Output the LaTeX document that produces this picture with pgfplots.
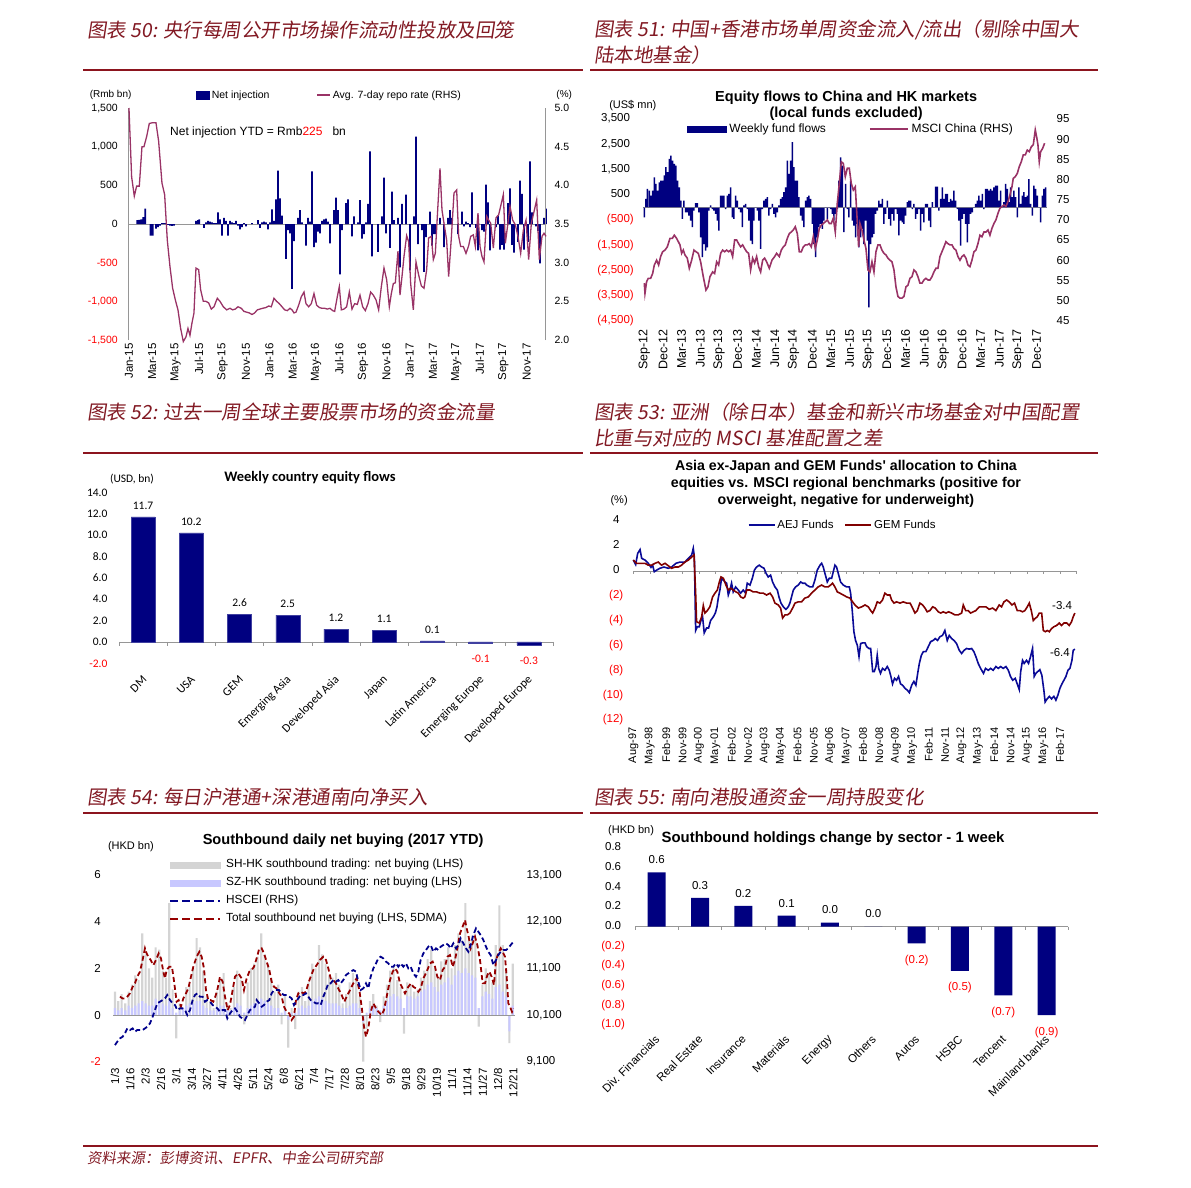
\documentclass[border=0pt]{standalone}
\usepackage{pgfplots}
\pgfplotsset{compat=1.18}
\usepackage{fontspec}
\setmainfont{Liberation Sans}
\newfontfamily\calfont{Carlito}
\newfontfamily\cjkfont[FakeSlant=0.15]{Noto Sans CJK SC}
\definecolor{navy}{RGB}{0,0,128}
\definecolor{ttl}{RGB}{130,25,35}
\definecolor{rulec}{RGB}{140,20,30}
\definecolor{repo}{RGB}{153,51,102}
\definecolor{aej}{RGB}{10,10,150}
\definecolor{gem}{RGB}{128,0,0}
\definecolor{shgray}{RGB}{212,212,212}
\definecolor{szlav}{RGB}{200,200,255}
\definecolor{negred}{RGB}{255,0,0}
\definecolor{axgray}{RGB}{150,150,150}
\definecolor{zl}{RGB}{110,110,140}
\definecolor{hsc}{RGB}{0,0,140}
\definecolor{tot}{RGB}{150,0,0}
\newcommand{\fs}[1]{\fontsize{#1}{#1}\selectfont}
\newcommand{\rd}[1]{\textcolor{negred}{#1}}
\pgfplotsset{
  base/.style={scale only axis, anchor=south west, clip=false,
    /pgf/number format/assume math mode=true,
    major tick length=0pt, axis line style={axgray}, tick style={draw=none}},
}
\begin{document}
\begin{tikzpicture}
\path[use as bounding box] (0pt,0pt) rectangle (1191pt,-1187pt);
% ---------- titles and rules ----------
\begin{scope}[every node/.style={anchor=west, font=\cjkfont\fs{19.5}, text=ttl, inner sep=0pt}]
\node at (87pt,-30pt) {图表 50:  央行每周公开市场操作流动性投放及回笼};
\node at (594pt,-30pt) {图表 51:  中国+香港市场单周资金流入/流出（剔除中国大};
\node at (594pt,-55pt) {陆本地基金）};
\node at (87pt,-412pt) {图表 52:  过去一周全球主要股票市场的资金流量};
\node at (594pt,-412pt) {图表 53:  亚洲（除日本）基金和新兴市场基金对中国配置};
\node at (594pt,-438pt) {比重与对应的 MSCI 基准配置之差};
\node at (87pt,-797pt) {图表 54:  每日沪港通+深港通南向净买入};
\node at (594pt,-797pt) {图表 55:  南向港股通资金一周持股变化};
\node[font=\cjkfont\fs{14.5}] at (87pt,-1158pt) {资料来源：彭博资讯、EPFR、中金公司研究部};
\end{scope}
\begin{scope}[rulec, line width=1.2pt]
\draw (83pt,-70pt) -- (583pt,-70pt); \draw (590pt,-70pt) -- (1098pt,-70pt);
\draw (83pt,-453pt) -- (583pt,-453pt); \draw (590pt,-453pt) -- (1098pt,-453pt);
\draw (83pt,-813pt) -- (583pt,-813pt); \draw (590pt,-813pt) -- (1098pt,-813pt);
\draw (83pt,-1146pt) -- (1098pt,-1146pt);
\end{scope}

% ================= Panel 50 =================
\begin{axis}[base, at={(128.3pt,-340pt)}, width=416.7pt, height=232pt,
  xmin=145, xmax=1395, ymin=-1500, ymax=1500,
  axis y line*=left, axis x line*=bottom, x axis line style={draw=none},
  ytick={-1500,-1000,-500,0,500,1000,1500},
  yticklabels={{\rd{-1,500}},{\rd{-1,000}},{\rd{-500}},0,500,{1,000},{1,500}},
  yticklabel style={font=\fs{10.5}, xshift=-7pt},
  xtick={147,217,287,357,428,498,568,638,708,778,849,919,989,1059,1129,1199,1270,1340},
  xticklabels={Jan-15,Mar-15,May-15,Jul-15,Sep-15,Nov-15,Jan-16,Mar-16,May-16,Jul-16,Sep-16,Nov-16,Jan-17,Mar-17,May-17,Jul-17,Sep-17,Nov-17},
  xticklabel style={font=\fs{11.5}, rotate=90, anchor=east},
]
\draw[axgray] (axis cs:145,0) -- (axis cs:1395,0);
\addplot[ybar, bar shift=0pt, bar width=5.5, fill=navy, draw=none] coordinates {
(172,50)(178,55)(184,60)(190,90)(196,200)(212,-150)(218,-150)(228,-60)(234,-40)(240,-20)(246,10)(252,10)(258,10)(264,-10)(270,-20)(276,-25)(282,-20)(348,40)(354,50)(358,60)(372,-50)(378,20)(384,40)(390,30)(396,20)(402,10)(408,10)(414,150)(420,60)(426,-150)(432,80)(438,40)(444,-150)(450,40)(456,20)(462,10)(468,40)(474,-20)(480,-70)(486,-40)(492,10)(498,-30)(516,10)(534,50)(540,-50)(546,20)(552,30)(558,20)(564,-70)(570,20)(576,190)(582,40)(588,320)(594,690)(600,330)(606,110)(618,-450)(624,-80)(630,-120)(636,-840)(642,-220)(654,80)(660,180)(666,20)(678,-280)(684,80)(690,30)(696,680)(702,-300)(708,-240)(714,-100)(720,-120)(726,40)(732,60)(738,70)(744,30)(750,-250)(762,180)(768,340)(774,180)(780,-650)(786,-80)(798,270)(804,320)(816,-160)(822,100)(834,20)(840,310)(846,-190)(852,-130)(858,20)(864,260)(870,940)(876,-420)(894,-360)(906,100)(912,600)(918,-120)(930,-310)(936,420)(942,50)(954,80)(960,-560)(966,260)(978,380)(990,-600)(1002,100)(1008,1130)(1014,-260)(1026,-80)(1032,-620)(1038,-170)(1050,160)(1056,-280)(1062,-130)(1068,-130)(1080,80)(1092,-300)(1104,80)(1110,180)(1116,80)(1134,-130)(1146,160)(1152,-30)(1158,30)(1164,10)(1170,-40)(1176,410)(1188,-50)(1194,-340)(1206,-80)(1212,-100)(1218,510)(1224,280)(1230,-340)(1248,-40)(1254,110)(1260,-330)(1266,-270)(1272,-330)(1284,270)(1290,460)(1296,-270)(1302,-370)(1314,-230)(1320,560)(1326,390)(1332,-330)(1344,-230)(1350,810)(1356,150)(1368,-30)(1374,-90)(1380,-510)(1392,80)(1398,200)};
\node[anchor=east, font=\fs{10}] at (axis description cs:0.016,1.056) {(Rmb bn)};
\node[anchor=west, font=\fs{10}] at (axis description cs:1.019,1.056) {(\%)};
\node[anchor=west, font=\fs{12}] at (axis description cs:0.092,0.897) {Net injection YTD = Rmb\textcolor{negred}{225}\ \ \ bn};
\end{axis}
\begin{axis}[base, at={(128.3pt,-340pt)}, width=416.7pt, height=232pt,
  xmin=145, xmax=1395, ymin=2, ymax=5,
  axis y line*=right, axis x line=none,
  ytick={2,2.5,3,3.5,4,4.5,5}, yticklabels={2.0,2.5,3.0,3.5,4.0,4.5,5.0},
  yticklabel style={font=\fs{10.5}, xshift=6pt},
  legend columns=2,
  legend style={draw=none, fill=none, at={(0.163,1.056)}, anchor=west, font=\fs{10.5}, inner sep=0pt,
    nodes={inner sep=1pt}, /tikz/every odd column/.append style={column sep=1pt}, /tikz/every even column/.append style={column sep=46pt}},
]
\addlegendimage{legend image code/.code={\fill[navy] (0pt,-4pt) rectangle (13pt,4pt);}}
\addlegendentry{Net injection}
\addplot[repo, line width=1.3pt, legend image code/.code={\draw[repo, line width=1.3pt] (0pt,0pt) -- (13pt,0pt);}] coordinates {
(147,5.00)(155,4.11)(163,3.86)(170,3.99)(178,3.99)(186,4.50)(192,4.50)(200,4.63)(208,4.80)(218,4.81)(228,4.81)(236,4.57)(246,4.03)(254,3.88)(262,3.29)(270,2.95)(278,2.67)(286,2.52)(294,2.39)(302,2.15)(310,1.98)(318,2.04)(324,2.15)(330,2.06)(336,2.22)(342,2.35)(348,2.93)(356,2.91)(362,2.65)(370,2.50)(378,2.50)(386,2.48)(394,2.40)(402,2.43)(412,2.54)(420,2.50)(430,2.43)(440,2.39)(450,2.41)(458,2.39)(466,2.40)(474,2.43)(484,2.41)(492,2.37)(500,2.36)(508,2.35)(516,2.33)(524,2.35)(532,2.39)(540,2.40)(548,2.41)(558,2.42)(566,2.44)(574,2.43)(582,2.54)(590,2.50)(598,2.47)(606,2.43)(614,2.39)(622,2.38)(630,2.41)(636,2.39)(642,2.35)(648,2.36)(656,2.45)(664,2.56)(672,2.62)(678,2.47)(686,2.43)(694,2.47)(702,2.60)(710,2.45)(718,2.42)(726,2.41)(734,2.41)(742,2.40)(750,2.41)(758,2.38)(764,2.37)(772,2.56)(778,2.69)(784,2.39)(792,2.40)(800,2.43)(808,2.62)(816,2.40)(824,2.47)(832,2.46)(840,2.58)(848,2.43)(856,2.38)(864,2.47)(872,2.62)(880,2.58)(888,2.52)(896,2.39)(904,2.69)(912,2.93)(920,2.78)(928,2.43)(934,2.60)(940,2.73)(946,2.74)(954,3.15)(960,2.58)(966,2.82)(972,3.08)(980,3.35)(986,3.27)(992,2.73)(1000,2.39)(1008,3.01)(1016,2.84)(1024,2.70)(1032,2.67)(1040,2.91)(1046,3.32)(1054,3.34)(1060,3.04)(1066,3.12)(1072,3.60)(1080,4.22)(1086,3.68)(1092,3.51)(1100,3.29)(1106,2.82)(1114,3.32)(1122,3.90)(1130,3.94)(1136,3.34)(1142,3.21)(1150,3.21)(1158,3.12)(1166,3.22)(1172,3.34)(1180,3.36)(1186,3.21)(1194,3.64)(1200,3.21)(1206,3.08)(1212,3.01)(1220,3.60)(1226,3.55)(1232,3.51)(1240,3.19)(1248,3.58)(1256,3.62)(1262,3.73)(1270,3.88)(1276,3.25)(1282,3.45)(1290,3.73)(1298,3.55)(1306,3.49)(1314,3.34)(1322,3.12)(1330,3.42)(1338,3.55)(1346,3.04)(1354,3.51)(1362,3.66)(1370,3.81)(1378,3.04)(1386,3.34)(1392,3.38)(1398,3.34)};
\addlegendentry{Avg. 7-day repo rate (RHS)}
\end{axis}

% ================= Panel 51 =================
\begin{axis}[base, at={(643.3pt,-320.7pt)}, width=403.3pt, height=201.7pt,
  xmin=160, xmax=1370, ymin=-4500, ymax=3500,
  axis y line*=left, y axis line style={draw=none}, axis x line*=bottom, x axis line style={draw=none},
  ytick={-4500,-3500,-2500,-1500,-500,500,1500,2500,3500},
  yticklabels={{\rd{(4,500)}},{\rd{(3,500)}},{\rd{(2,500)}},{\rd{(1,500)}},{\rd{(500)}},{500\phantom{)}},{1,500\phantom{)}},{2,500\phantom{)}},{3,500\phantom{)}}},
  yticklabel style={font=\fs{11.5}, xshift=-6pt},
  xtick={163,219,275,331,387,443,499,555,611,667,723,779,835,891,947,1003,1060,1116,1172,1228,1284,1340},
  xticklabels={Sep-12,Dec-12,Mar-13,Jun-13,Sep-13,Dec-13,Mar-14,Jun-14,Sep-14,Dec-14,Mar-15,Jun-15,Sep-15,Dec-15,Mar-16,Jun-16,Sep-16,Dec-16,Mar-17,Jun-17,Sep-17,Dec-17},
  xticklabel style={font=\fs{12.5}, rotate=90, anchor=east, xshift=-5pt},
]
\addplot[ybar, bar shift=0pt, bar width=4.6, fill=navy, draw=none] coordinates {
(163,-400)(168,330)(172,730)(178,660)(183,460)(188,660)(193,1190)(198,930)(203,660)(208,990)(213,1060)(218,1060)(223,1260)(228,1590)(233,1390)(238,1920)(243,2050)(248,1850)(253,1720)(258,1650)(263,1060)(268,790)(273,260)(277,-460)(282,260)(287,-200)(292,-200)(297,-330)(302,-530)(307,-790)(312,-130)(317,160)(322,160)(327,-200)(332,-1190)(337,-1980)(342,-1460)(347,-1720)(352,-1590)(357,-130)(362,70)(367,-70)(372,-130)(377,-260)(382,-530)(387,-930)(392,460)(397,460)(402,460)(407,-70)(412,460)(417,530)(422,790)(427,-400)(432,-460)(437,460)(442,260)(447,-70)(452,-200)(457,-790)(462,70)(467,130)(472,-70)(477,-530)(482,-1320)(487,-1460)(492,-530)(502,-130)(507,-530)(512,-1650)(517,-70)(522,260)(527,330)(532,400)(537,-330)(542,-70)(547,130)(552,-260)(557,-400)(562,-200)(567,70)(572,330)(577,400)(582,600)(587,790)(592,1850)(597,1320)(602,1850)(607,2580)(612,1590)(617,1060)(622,1060)(627,400)(632,-330)(637,-530)(642,-790)(647,260)(652,400)(657,460)(662,330)(667,-660)(672,-1460)(677,-1980)(682,-1190)(687,-790)(692,-660)(697,-860)(702,-530)(712,-460)(722,-70)(727,-260)(732,-530)(737,-260)(742,-70)(747,1060)(752,1980)(757,1650)(762,-990)(767,930)(772,-70)(777,-400)(782,1060)(787,-530)(792,-730)(797,-1190)(802,-660)(807,-1590)(812,-1190)(817,-860)(822,-1460)(827,-530)(832,-1320)(837,-3970)(842,-1460)(847,-1190)(852,-1060)(857,-260)(862,-130)(867,260)(872,130)(877,330)(882,-660)(887,-260)(892,260)(897,-460)(902,-730)(907,-260)(912,-530)(917,-70)(922,-260)(927,-1120)(932,-530)(937,-600)(942,-660)(947,-330)(952,200)(957,260)(962,260)(967,-70)(972,130)(977,-460)(982,-260)(987,-70)(992,-930)(997,-260)(1002,-600)(1007,130)(1012,130)(1017,-530)(1022,-790)(1027,200)(1037,820)(1042,820)(1047,-130)(1052,330)(1057,790)(1062,330)(1067,530)(1072,530)(1077,200)(1082,330)(1087,260)(1092,660)(1097,260)(1102,-70)(1107,-530)(1112,-1520)(1117,-460)(1122,-260)(1127,-660)(1132,-1390)(1137,-660)(1142,-260)(1147,-200)(1157,130)(1162,260)(1167,460)(1172,260)(1177,530)(1182,-70)(1187,730)(1192,730)(1197,660)(1202,730)(1207,660)(1212,790)(1217,860)(1222,860)(1227,260)(1232,660)(1242,200)(1247,930)(1252,730)(1257,200)(1262,790)(1267,400)(1272,660)(1277,400)(1282,-400)(1287,790)(1292,130)(1297,460)(1302,600)(1307,400)(1312,460)(1317,1120)(1322,130)(1327,-330)(1332,860)(1337,730)(1342,460)(1352,-600)(1357,460)(1362,730)(1367,790)};
\draw[zl, line width=1.5pt] (axis cs:160,0) -- (axis cs:1370,0);
\node[font=\fs{11}] at (axis description cs:-0.026,1.069) {(US\$ mn)};
\node[font=\bfseries\fontsize{14.5}{16}\selectfont, align=center, inner sep=0pt] at (axis description cs:0.503,1.064) {Equity flows to China and HK markets\\(local funds excluded)};
\end{axis}
\begin{axis}[base, at={(643.3pt,-320.7pt)}, width=403.3pt, height=201.7pt,
  xmin=160, xmax=1370, ymin=45, ymax=95,
  axis y line*=right, y axis line style={draw=none}, axis x line=none,
  ytick={45,50,...,95},
  yticklabel style={font=\fs{11.5}, xshift=6.5pt},
  legend columns=2,
  legend style={draw=none, fill=none, at={(0.108,0.950)}, anchor=west, font=\fs{12}, inner sep=0pt,
    nodes={inner sep=1pt}, /tikz/every odd column/.append style={column sep=2pt}, /tikz/every even column/.append style={column sep=42pt}},
]
\addlegendimage{legend image code/.code={\fill[navy] (0pt,-3pt) rectangle (39pt,3pt);}}
\addlegendentry{Weekly fund flows}
\addplot[repo, line width=1.6pt, legend image code/.code={\draw[repo, line width=1.6pt] (0pt,0pt) -- (38pt,0pt);}] coordinates {
(163,54.3)(165,51.8)(170,54.7)(175,55.5)(182,55.5)(188,56.7)(193,58.8)(200,60.0)(206,58.8)(212,60.9)(218,62.1)(225,62.5)(232,63.3)(240,65.4)(247,65.4)(253,66.2)(260,65.4)(265,64.6)(270,63.8)(275,61.7)(280,62.5)(285,61.3)(292,60.5)(298,58.0)(305,60.0)(312,62.5)(318,62.1)(325,61.7)(332,59.6)(340,55.9)(348,52.6)(354,53.4)(360,55.9)(368,57.1)(374,56.7)(380,59.6)(386,58.8)(392,61.7)(398,62.5)(404,62.1)(410,62.5)(416,62.1)(422,62.5)(428,60.9)(434,65.0)(440,65.0)(446,64.1)(452,63.3)(458,63.8)(464,62.9)(470,62.1)(476,61.7)(482,57.6)(488,60.5)(494,59.3)(500,60.9)(506,58.4)(512,57.1)(518,60.0)(524,60.5)(530,59.6)(538,58.0)(546,60.0)(554,60.9)(560,61.7)(568,60.9)(574,62.5)(580,63.3)(586,63.8)(592,65.4)(598,66.6)(604,67.0)(610,67.5)(616,68.3)(622,66.6)(628,62.1)(634,62.1)(640,63.3)(646,63.8)(652,63.8)(658,64.1)(664,63.3)(670,65.8)(676,62.9)(682,65.0)(688,67.9)(694,68.7)(700,69.1)(706,69.5)(712,70.0)(718,69.1)(724,69.1)(730,70.4)(736,67.0)(742,74.1)(748,79.0)(754,84.4)(760,84.0)(766,80.7)(772,82.8)(778,82.8)(784,79.0)(790,77.4)(796,78.2)(802,69.5)(806,63.3)(810,69.1)(816,67.5)(822,65.0)(828,62.9)(834,57.6)(840,57.1)(846,59.6)(852,57.1)(858,62.1)(864,63.8)(870,63.8)(876,62.5)(882,61.7)(888,61.3)(894,60.5)(900,60.0)(906,59.6)(912,57.6)(918,53.4)(924,51.0)(930,50.6)(936,50.6)(942,51.0)(948,53.4)(954,53.8)(960,55.5)(966,55.9)(972,57.6)(978,57.1)(984,55.9)(990,54.3)(996,54.3)(1002,55.1)(1008,55.5)(1014,55.1)(1020,55.1)(1026,55.9)(1032,57.1)(1038,58.0)(1044,58.0)(1050,60.9)(1056,62.1)(1062,63.3)(1068,64.6)(1074,64.1)(1080,63.8)(1086,63.8)(1092,62.9)(1098,62.5)(1104,60.9)(1110,60.0)(1116,60.9)(1122,61.3)(1128,60.5)(1134,58.8)(1140,58.4)(1146,60.0)(1152,62.1)(1158,62.5)(1164,64.1)(1170,66.2)(1176,65.8)(1182,67.0)(1188,67.0)(1194,67.5)(1200,66.2)(1206,67.9)(1212,69.1)(1218,70.0)(1224,71.6)(1230,72.9)(1236,73.3)(1242,73.7)(1248,73.3)(1254,74.5)(1260,76.2)(1266,78.2)(1270,80.3)(1276,80.7)(1282,81.5)(1288,83.2)(1294,84.4)(1300,86.1)(1306,86.1)(1312,87.3)(1318,86.9)(1324,88.1)(1330,88.6)(1336,92.3)(1340,90.6)(1344,88.6)(1348,84.4)(1352,86.9)(1358,87.7)(1364,89.0)};
\addlegendentry{MSCI China (RHS)}
\end{axis}

% ================= Panel 52 =================
\begin{axis}[base, at={(119pt,-663.3pt)}, width=434pt, height=171pt,
  xmin=-0.5, xmax=8.5, ymin=-2, ymax=14,
  axis y line*=left, y axis line style={draw=none}, axis x line*=bottom, x axis line style={draw=none},
  ytick={-2,0,2,4,6,8,10,12,14}, yticklabels={{\rd{-2.0}},0.0,2.0,4.0,6.0,8.0,10.0,12.0,14.0},
  yticklabel style={font=\calfont\fs{11.5}, xshift=-8pt},
  xtick={0,...,8}, xticklabels={DM,USA,GEM,Emerging Asia,Developed Asia,Japan,Latin America,Emerging Europe,Developed Europe},
  xticklabel style={font=\calfont\fs{12}, yshift=-12pt, xshift=4pt, rotate=45, anchor=east},
]
\draw[axgray] (axis cs:-0.5,0) -- (axis cs:8.5,0);
\pgfplotsinvokeforeach{-0.5,0.5,...,8.5}{\draw[axgray] (axis cs:#1,0) -- ++(0pt,-4pt);}
\addplot[ybar, bar shift=0pt, bar width=24pt, fill=navy, draw=navy!75!white, point meta=explicit symbolic, nodes near coords,
  every node near coord/.append style={font=\calfont\fs{11.5}, anchor=south, yshift=4pt}] coordinates {
(0,11.7)[11.7] (1,10.2)[10.2] (2,2.6)[2.6] (3,2.5)[2.5] (4,1.2)[1.2] (5,1.1)[1.1] (6,0.1)[0.1]};
\addplot[ybar, bar shift=0pt, bar width=24pt, fill=navy, draw=navy!75!white, point meta=explicit symbolic, nodes near coords,
  every node near coord/.append style={font=\calfont\fs{11.5}, text=negred, anchor=north, yshift=-8pt}] coordinates {
(7,-0.1)[-0.1] (8,-0.3)[-0.3]};
\node[font=\calfont\bfseries\fs{14.5}] at (axis description cs:0.44,1.089) {Weekly country equity flows};
\node[font=\calfont\fs{11.5}] at (axis description cs:0.03,1.078) {(USD, bn)};
\end{axis}

% ================= Panel 53 =================
\begin{axis}[base, at={(633.3pt,-720pt)}, width=443pt, height=199pt,
  xmin=0, xmax=243, ymin=-12, ymax=4,
  axis y line*=left, y axis line style={draw=none}, axis x line*=bottom, x axis line style={draw=none},
  ytick={-12,-10,...,4},
  yticklabels={{\rd{(12)}},{\rd{(10)}},{\rd{(8)}},{\rd{(6)}},{\rd{(4)}},{\rd{(2)}},{0\phantom{)}},{2\phantom{)}},{4\phantom{)}}},
  yticklabel style={font=\fs{11.5}, xshift=-6.5pt},
  xtick={0,9,...,234},
  xticklabels={Aug-97,May-98,Feb-99,Nov-99,Aug-00,May-01,Feb-02,Nov-02,Aug-03,May-04,Feb-05,Nov-05,Aug-06,May-07,Feb-08,Nov-08,Aug-09,May-10,Feb-11,Nov-11,Aug-12,May-13,Feb-14,Nov-14,Aug-15,May-16,Feb-17},
  xticklabel style={font=\fs{11}, rotate=90, anchor=east, xshift=-4pt},
  legend columns=2,
  legend style={draw=none, fill=none, at={(0.258,0.98)}, anchor=west, font=\fs{11.5}, inner sep=0pt,
    nodes={inner sep=1pt}, /tikz/every odd column/.append style={column sep=1pt}, /tikz/every even column/.append style={column sep=10pt}},
]
\draw[axgray] (axis cs:0,0) -- (axis cs:243,0);
\pgfplotsinvokeforeach{0,9,...,243}{\draw[axgray] (axis cs:#1,0) -- ++(0pt,-3pt);}
\addplot[aej, line width=1.6pt, legend image code/.code={\draw[aej, line width=1.6pt] (0pt,0pt) -- (26pt,0pt);}] coordinates {
(0,0.86)(1.3,0.5)(2.4,1.4)(3.7,1.7)(4.6,1.0)(6.4,0.86)(8.2,0.6)(9.7,0.27)(10.6,0.45)(11.5,-0.08)(12.8,0.05)(14.6,0.2)(16.8,0.3)(19.2,0.2)(21,0.3)(23.4,0.6)(25.6,0.7)(28.3,0.7)(30.2,1.0)(32,1.26)(32.9,1.8)(33.5,1.1)(34.2,-4.8)(35.1,-4.5)(36.2,-4.5)(37.1,-4.0)(38,-3.7)(38.9,-5.0)(40.2,-4.6)(41.3,-4.6)(42.4,-4.0)(43.9,-3.7)(45,-3.4)(45.9,-2.9)(46.6,-2.2)(47.5,-1.55)(48.4,-0.6)(49.4,-0.75)(50.3,-0.9)(51.2,-1.0)(52.1,-1.95)(53,-1.55)(53.9,-1.0)(54.8,-1.7)(56.1,-1.3)(57.6,-1.55)(58.9,-1.8)(60.3,-1.55)(61.6,-1.8)(62.5,-1.0)(64,-1.15)(65.3,-0.6)(66.4,0.05)(67.6,0.3)(69.1,0.45)(70.4,0.3)(71.7,0.2)(72.8,-0.2)(74,-0.5)(75.3,-0.35)(76.4,-0.9)(77.7,-1.3)(79,-1.55)(79.9,-2.1)(81,-2.6)(82.3,-2.9)(83.7,-3.1)(85,-2.9)(85.9,-2.6)(86.8,-2.1)(87.8,-1.55)(89,-1.3)(90.5,-1.15)(91.8,-0.9)(92.9,-1.0)(94.1,-1.0)(95.1,-1.15)(96.9,-1.3)(98.4,-1.3)(99.6,-0.75)(100.9,0.05)(102.4,0.45)(103.3,0.6)(104.2,0.3)(105.1,-0.2)(106.4,-0.9)(107.5,-0.6)(108.8,-0.6)(109.7,-0.08)(110.6,0.45)(111.5,0.3)(112.4,-0.2)(113.7,-0.9)(115.2,-1.15)(117,-1.3)(118.5,-1.3)(119.2,-1.8)(120.1,-3.2)(121,-4.9)(121.9,-5.6)(122.9,-6.0)(123.8,-6.9)(124.7,-5.85)(125.8,-5.8)(127.1,-5.8)(128,-6.1)(129.3,-6.25)(130.2,-6.25)(131.3,-8.1)(132.2,-8.1)(133.1,-7.7)(133.8,-6.8)(134.6,-7.85)(135.6,-8.25)(136.7,-7.85)(138,-8.0)(139.3,-7.7)(140.4,-8.0)(141.3,-8.5)(142.2,-9.1)(143.3,-8.65)(144.4,-8.8)(145.5,-8.5)(146.6,-9.1)(147.7,-9.2)(149,-9.45)(150.3,-9.6)(151.4,-9.8)(152.7,-9.2)(153.9,-8.9)(155,-9.2)(156,-8.25)(156.9,-7.45)(158,-6.8)(159.1,-6.5)(160.5,-6.5)(161.8,-6.1)(163.1,-5.7)(164.5,-5.6)(165.6,-5.45)(166.9,-5.6)(168.2,-5.3)(169.6,-5.2)(170.9,-4.8)(172.2,-5.6)(173.3,-5.2)(174.6,-5.45)(175.9,-5.6)(177.3,-5.85)(178.8,-6.4)(180.1,-6.65)(181.4,-6.4)(182.8,-6.25)(184.3,-6.3)(185.6,-6.25)(186.8,-6.5)(187.9,-6.9)(189.2,-7.45)(190.5,-7.85)(192.1,-8.25)(193.2,-7.85)(194.7,-8.0)(196,-7.85)(197.4,-8.0)(198.9,-7.7)(200.2,-7.85)(201.5,-7.7)(202.9,-7.85)(204.4,-7.7)(205.7,-8.0)(206.9,-8.5)(208.1,-8.8)(209.5,-8.65)(210.6,-9.1)(211.7,-9.55)(212.5,-8.1)(213.5,-7.2)(214.4,-7.45)(215.7,-7.2)(216.8,-7.45)(217.9,-6.9)(219,-6.25)(219.9,-8.5)(220.8,-8.25)(221.9,-8.1)(223,-7.95)(224.1,-8.4)(225.2,-9.6)(225.9,-10.55)(227,-10.3)(228.2,-10.1)(229.4,-10.3)(230.7,-10.1)(231.8,-10.4)(232.9,-10.0)(234,-9.45)(235.1,-9.1)(236.2,-8.8)(237.3,-8.5)(238.4,-8.0)(239.5,-7.85)(240.6,-7.2)(241.3,-6.4)(242.2,-6.3)};
\addlegendentry{AEJ Funds}
\addplot[gem, line width=1.6pt, legend image code/.code={\draw[gem, line width=1.6pt] (0pt,0pt) -- (26pt,0pt);}] coordinates {
(0,0.86)(1.8,0.6)(4.6,0.6)(6.4,0.6)(8.2,0.45)(10.1,0.45)(11.9,0.6)(13.7,0.7)(15.5,0.45)(17.4,0.6)(19.2,0.4)(21,0.2)(22.9,0.3)(24.7,0.3)(26.5,0.45)(28.3,0.7)(30.2,0.86)(32,1.1)(33.3,1.26)(34.2,-1.8)(34.7,-4.1)(36.2,-4.2)(37.5,-3.7)(38.4,-2.8)(39.3,-3.4)(40.6,-3.2)(42,-2.9)(43.5,-2.1)(44.8,-1.8)(46.1,-1.55)(47.2,-0.9)(48.1,-0.5)(49.4,-0.6)(50.8,-1.15)(52.1,-1.55)(53.4,-1.4)(54.8,-1.55)(56.3,-1.7)(57.6,-1.8)(58.9,-2.1)(60.3,-2.2)(61.2,-2.1)(62.2,-1.55)(64,-1.55)(65.8,-1.7)(67.6,-1.7)(69.5,-1.8)(71.3,-1.8)(73.1,-1.95)(75,-1.8)(76.4,-2.1)(77.7,-2.6)(79.5,-2.75)(80.8,-3.0)(81.9,-3.8)(83.2,-3.55)(84.5,-3.55)(85.9,-3.4)(87.4,-3.0)(88.7,-2.6)(90.5,-2.5)(92.3,-2.5)(94.1,-2.2)(96,-2.1)(97.8,-1.8)(99.6,-1.55)(101.4,-1.3)(103.3,-1.15)(105.1,-1.3)(106.9,-1.3)(108.2,-1.15)(109.3,-1.0)(110.6,-1.3)(111.9,-1.7)(113.3,-1.8)(115.2,-1.95)(117,-2.1)(118.8,-2.2)(120.3,-2.5)(121.6,-2.75)(123.4,-3.0)(125.3,-2.9)(127.1,-2.75)(128.9,-2.9)(130.2,-3.2)(131.3,-3.4)(132.6,-3.0)(133.8,-2.5)(135.3,-2.6)(136.7,-2.35)(138,-1.8)(139.3,-1.95)(140.8,-1.95)(141.7,-2.35)(143,-2.6)(144.4,-2.5)(146.3,-2.6)(148.1,-2.5)(149.9,-2.6)(151.8,-2.6)(153.2,-3.0)(154.5,-3.4)(155.8,-3.2)(157.2,-2.6)(158.7,-2.75)(160,-3.0)(161.2,-3.3)(162.7,-3.2)(164.2,-2.9)(165.6,-3.0)(167.3,-3.3)(168.6,-3.4)(170,-3.3)(171.5,-3.4)(172.9,-3.3)(174.6,-3.4)(176.4,-3.55)(178.2,-3.55)(180.1,-3.4)(181,-2.75)(182.3,-3.2)(183.7,-3.2)(185,-3.4)(186.5,-3.3)(187.9,-3.2)(189.8,-2.9)(191.6,-2.9)(193.4,-2.9)(195.2,-3.1)(197.1,-3.0)(198.9,-3.2)(200.7,-2.75)(202,-2.9)(203.3,-2.5)(204.8,-2.35)(206.2,-2.5)(207.7,-2.75)(209.1,-2.6)(210.6,-3.2)(212.1,-3.2)(213.5,-3.3)(214.8,-3.2)(216.1,-2.9)(217.2,-2.6)(218.3,-3.2)(219.4,-4.0)(220.3,-3.85)(221.6,-3.7)(222.7,-3.4)(224,-3.4)(224.9,-4.8)(226,-4.9)(227.1,-4.8)(228.2,-4.9)(229.4,-4.65)(230.7,-4.5)(232.2,-4.4)(233.6,-4.2)(234.9,-4.4)(236.2,-4.2)(237.7,-4.2)(239.1,-4.4)(240.4,-4.1)(241.3,-3.7)(242.2,-3.4)};
\addlegendentry{GEM Funds}
\node[font=\bfseries\fontsize{14.2}{17}\selectfont, align=center, inner sep=0pt] at (axis description cs:0.48,1.186) {Asia ex-Japan and GEM Funds\textquotesingle\ allocation to China\\equities vs. MSCI regional benchmarks (positive for\\overweight, negative for underweight)};
\node[font=\fs{11}] at (axis description cs:-0.032,1.10) {(\%)};
\node[font=\fs{11.5}] at (axis description cs:0.968,0.573) {-3.4};
\node[font=\fs{11.5}] at (axis description cs:0.963,0.337) {-6.4};
\end{axis}

% ================= Panel 54 =================
\begin{axis}[base, at={(113.3pt,-1061.7pt)}, width=401.7pt, height=186.7pt,
  xmin=100, xmax=1305, ymin=-2, ymax=6,
  axis y line*=left, y axis line style={draw=none}, axis x line*=bottom, x axis line style={draw=none},
  ytick={-2,0,2,4,6}, yticklabels={{\rd{-2}},0,2,4,6},
  yticklabel style={font=\fs{11.5}, xshift=-9pt},
  xtick={105,151,197,243,289,335,381,427,473,519,565,611,657,702,748,794,840,886,932,978,1024,1070,1116,1162,1208,1254,1300},
  xticklabels={1/3,1/16,2/3,2/16,3/1,3/14,3/27,4/11,4/26,5/11,5/24,6/8,6/21,7/4,7/17,7/28,8/10,8/23,9/5,9/18,9/29,10/19,11/1,11/14,11/27,12/8,12/21},
  xticklabel style={font=\fs{11.5}, rotate=90, anchor=east, xshift=-3pt},
]
\addplot[ybar, bar shift=0pt, bar width=6.5, fill=shgray, draw=none] coordinates {
(105,1.0)(115,0.6)(125,0.9)(136,0.5)(146,1.0)(156,1.3)(166,1.7)(176,1.5)(187,3.5)(197,2.6)(207,2.0)(217,1.6)(227,2.9)(238,2.8)(248,1.9)(258,1.6)(268,4.8)(278,1.1)(289,-1.0)(299,0.5)(309,0.3)(319,1.2)(329,1.3)(340,2.0)(350,3.3)(360,2.9)(370,1.9)(380,0.8)(391,0.6)(401,0.3)(411,1.0)(421,1.5)(431,1.8)(442,0.5)(452,0.3)(462,1.2)(472,1.9)(482,1.5)(493,-0.4)(503,1.4)(513,2.0)(523,2.2)(533,2.5)(544,3.5)(554,2.6)(564,2.2)(574,1.6)(584,1.0)(595,1.3)(605,-0.4)(615,0.9)(625,-1.4)(635,0.3)(646,-0.6)(656,1.0)(666,1.2)(676,0.6)(686,1.4)(697,2.2)(707,2.0)(717,3.0)(727,2.6)(737,2.2)(748,1.7)(758,1.6)(768,1.8)(778,1.3)(788,0.5)(799,0.9)(809,1.4)(819,1.8)(829,1.6)(839,0.8)(850,-2.0)(860,-0.6)(870,0.6)(880,0.9)(890,0.4)(901,-0.3)(911,0.8)(921,1.3)(931,1.9)(941,2.1)(952,1.5)(962,1.2)(972,-0.8)(982,1.4)(992,1.3)(1003,1.0)(1013,1.1)(1023,1.6)(1033,1.9)(1043,2.4)(1054,2.8)(1064,2.0)(1074,1.6)(1084,2.3)(1094,2.4)(1105,2.9)(1115,2.0)(1125,3.0)(1135,3.5)(1145,3.2)(1156,4.8)(1166,3.2)(1176,3.4)(1186,3.3)(1196,-0.5)(1207,1.3)(1217,2.0)(1227,1.8)(1237,1.4)(1247,3.0)(1258,4.7)(1268,3.0)(1278,2.0)(1288,-1.2)(1298,2.2)};
\addplot[ybar, bar shift=0pt, bar width=6.5, fill=szlav, draw=none] coordinates {
(105,0.3)(115,0.2)(125,0.3)(136,0.2)(146,0.4)(156,0.3)(166,0.4)(176,0.5)(187,0.6)(197,0.5)(207,0.4)(217,0.4)(227,0.7)(238,0.6)(248,0.5)(258,0.4)(268,0.6)(278,0.3)(289,0.1)(299,0.2)(309,0.3)(319,0.4)(329,0.5)(340,0.5)(350,0.6)(360,0.6)(370,0.4)(380,0.3)(391,0.2)(401,0.2)(411,0.3)(421,0.4)(431,0.4)(442,0.2)(452,0.2)(462,0.3)(472,0.5)(482,0.4)(493,0.1)(503,0.3)(513,0.4)(523,0.5)(533,0.6)(544,0.7)(554,0.6)(564,0.5)(574,0.4)(584,0.3)(595,0.3)(605,0.1)(615,0.2)(625,-0.2)(635,0.1)(646,0.1)(656,0.3)(666,0.4)(676,0.3)(686,0.4)(697,0.6)(707,0.7)(717,0.8)(727,0.7)(737,0.6)(748,0.5)(758,0.5)(768,0.5)(778,0.4)(788,0.3)(799,0.3)(809,0.4)(819,0.5)(829,0.5)(839,0.3)(850,-0.3)(860,0.1)(870,0.3)(880,0.4)(890,0.3)(901,0.2)(911,0.4)(921,0.6)(931,0.8)(941,0.9)(952,0.8)(962,0.7)(972,0.3)(982,0.8)(992,0.8)(1003,0.7)(1013,0.8)(1023,1.0)(1033,1.1)(1043,1.3)(1054,1.4)(1064,1.2)(1074,1.0)(1084,1.3)(1094,1.4)(1105,1.6)(1115,1.3)(1125,1.7)(1135,1.9)(1145,1.8)(1156,2.0)(1166,1.8)(1176,1.7)(1186,1.6)(1196,0.3)(1207,0.8)(1217,1.0)(1227,0.9)(1237,0.7)(1247,1.2)(1258,1.3)(1268,1.0)(1278,0.8)(1288,-0.7)(1298,0.4)};
\draw[axgray, line width=0.8pt] (axis cs:100,0) -- (axis cs:1305,0);
\addplot[tot, line width=1.8pt, dash pattern=on 5pt off 3pt] coordinates {
(120,0.79)(128,0.71)(135,0.71)(142,0.79)(150,0.93)(158,1.21)(165,1.36)(172,1.64)(180,1.86)(188,2.36)(195,2.86)(200,2.64)(205,2.5)(212,2.36)(220,2.14)(228,2.36)(236,2.64)(243,2.43)(250,1.86)(255,1.57)(260,1.93)(268,2.07)(276,2.07)(283,1.36)(290,0.57)(296,0.64)(303,0.36)(310,0.71)(318,0.93)(325,1.14)(333,1.64)(340,2.07)(350,2.5)(358,2.71)(365,2.5)(372,2.0)(378,1.07)(385,0.64)(392,0.64)(400,0.57)(406,0.79)(412,1.07)(420,1.64)(428,1.43)(435,0.79)(443,0.21)(450,0.43)(458,1.07)(465,1.64)(475,1.79)(485,1.57)(492,1.07)(500,1.57)(508,1.86)(515,1.93)(522,2.07)(530,2.43)(538,2.86)(545,2.86)(552,2.64)(560,2.29)(568,1.93)(575,1.43)(582,1.21)(590,1.14)(598,0.93)(605,0.79)(612,0.36)(620,0.14)(628,0.07)(635,-0.21)(642,-0.07)(648,0.64)(655,0.93)(662,1.0)(670,0.93)(678,1.0)(685,1.36)(692,1.64)(700,1.93)(710,2.14)(720,2.36)(730,2.5)(738,2.36)(745,2.0)(752,1.57)(760,1.5)(768,1.36)(775,1.14)(785,0.86)(793,0.57)(800,0.79)(810,1.07)(820,1.36)(830,1.57)(838,1.07)(845,0.36)(852,-0.5)(858,-0.93)(865,-0.57)(872,0.14)(880,0.5)(888,0.29)(895,0.14)(905,0.0)(912,0.21)(920,0.79)(930,1.5)(938,1.86)(945,2.0)(952,1.86)(960,1.36)(968,1.14)(975,0.93)(985,1.21)(993,1.36)(1000,1.21)(1008,1.14)(1015,1.0)(1022,1.14)(1030,1.57)(1040,1.86)(1050,2.21)(1058,2.29)(1065,2.07)(1072,1.64)(1080,1.5)(1088,1.93)(1095,2.07)(1102,2.5)(1110,2.57)(1118,2.07)(1125,2.36)(1132,2.86)(1140,3.5)(1148,3.79)(1155,4.07)(1160,3.71)(1165,3.43)(1172,2.86)(1178,3.07)(1185,3.36)(1192,3.0)(1200,2.36)(1208,1.36)(1215,1.36)(1222,1.71)(1228,1.86)(1235,1.64)(1242,1.29)(1248,2.36)(1255,2.64)(1262,2.86)(1268,2.71)(1275,2.5)(1280,1.64)(1285,0.5)(1290,0.36)(1296,0.14)(1300,0.29)};
\node[font=\bfseries\fs{14.6}] at (axis description cs:0.572,1.182) {Southbound daily net buying (2017 YTD)};
\node[font=\fs{11}] at (axis description cs:0.044,1.15) {(HKD bn)};
\end{axis}
\begin{axis}[base, at={(113.3pt,-1061.7pt)}, width=401.7pt, height=186.7pt,
  xmin=100, xmax=1305, ymin=9100, ymax=13100, scaled y ticks=false,
  axis y line*=right, y axis line style={draw=none}, axis x line=none,
  ytick={9100,10100,11100,12100,13100}, yticklabels={{9,100},{10,100},{11,100},{12,100},{13,100}},
  yticklabel style={font=\fs{11.5}, xshift=8pt},
  legend cell align=left,
  legend style={draw=none, fill=none, at={(0.139,1.087)}, anchor=north west, font=\fs{11.8}, inner sep=0pt,
    nodes={inner sep=1pt, text height=8pt, text depth=2.5pt}, row sep=5.4pt, /tikz/every odd column/.append style={column sep=4pt}},
]
\addlegendimage{legend image code/.code={\fill[shgray] (0pt,-3pt) rectangle (50pt,3pt);}}
\addlegendentry{SH-HK southbound trading: net buying (LHS)}
\addlegendimage{legend image code/.code={\fill[szlav] (0pt,-3pt) rectangle (50pt,3pt);}}
\addlegendentry{SZ-HK southbound trading: net buying (LHS)}
\addplot[hsc, line width=1.8pt, dash pattern=on 5pt off 3pt, legend image code/.code={\draw[hsc, line width=1.8pt, dash pattern=on 8pt off 4pt] (0pt,0pt) -- (50pt,0pt);}] coordinates {
(105,9457)(112,9529)(120,9600)(128,9636)(135,9707)(142,9814)(150,9779)(158,9814)(165,9743)(172,9779)(180,9779)(188,9779)(195,9814)(202,9850)(210,9921)(218,10064)(225,10207)(232,10350)(240,10386)(248,10421)(255,10457)(262,10529)(270,10421)(278,10350)(285,10314)(292,10207)(300,10243)(308,10243)(315,10207)(322,10100)(330,10207)(338,10421)(345,10529)(352,10564)(360,10493)(368,10493)(375,10386)(382,10421)(390,10386)(398,10314)(405,10279)(412,10243)(420,10171)(428,10207)(435,10207)(442,10029)(450,10136)(458,10207)(465,10243)(472,10171)(480,10064)(487,10029)(495,9993)(502,10100)(510,10207)(518,10243)(525,10279)(530,10421)(538,10350)(545,10279)(552,10314)(560,10386)(568,10421)(575,10564)(582,10636)(590,10636)(597,10636)(605,10564)(612,10529)(620,10529)(628,10493)(635,10457)(642,10314)(648,10386)(655,10457)(662,10529)(670,10529)(678,10564)(685,10493)(692,10421)(700,10386)(708,10350)(715,10350)(722,10314)(730,10493)(738,10636)(745,10779)(752,10779)(760,10850)(768,10814)(775,10850)(782,10779)(790,10850)(798,10957)(805,10993)(812,11029)(820,11064)(828,11029)(835,10814)(842,10636)(850,10671)(858,10779)(865,10671)(872,10921)(880,11100)(888,11207)(895,11314)(902,11350)(910,11314)(918,11243)(925,11207)(932,11136)(940,11136)(948,11207)(955,11136)(962,11207)(970,11136)(978,11207)(985,11100)(992,11136)(1000,10993)(1008,10921)(1015,11029)(1022,11279)(1030,11421)(1038,11493)(1045,11564)(1052,11600)(1060,11457)(1068,11529)(1075,11493)(1082,11564)(1090,11600)(1098,11636)(1105,11600)(1112,11529)(1120,11636)(1128,11529)(1135,11600)(1142,11743)(1150,11636)(1158,11529)(1165,11457)(1172,11600)(1180,11814)(1188,11957)(1195,11886)(1202,11814)(1210,11707)(1218,11564)(1225,11457)(1232,11386)(1240,11171)(1248,11279)(1255,11386)(1262,11457)(1270,11493)(1278,11493)(1285,11529)(1292,11600)(1300,11671)};
\addlegendentry{HSCEI (RHS)}
\addlegendimage{legend image code/.code={\draw[tot, line width=1.8pt, dash pattern=on 8pt off 4pt] (0pt,0pt) -- (50pt,0pt);}}
\addlegendentry{Total southbound net buying (LHS, 5DMA)}
\end{axis}

% ================= Panel 55 =================
\begin{axis}[base, at={(635pt,-1025pt)}, width=433.3pt, height=177.3pt,
  xmin=-0.5, xmax=9.5, ymin=-1, ymax=0.8,
  axis y line*=left, y axis line style={draw=none}, axis x line*=bottom, x axis line style={draw=none},
  ytick={-1,-0.8,-0.6,-0.4,-0.2,0,0.2,0.4,0.6,0.8},
  yticklabels={{\rd{(1.0)}},{\rd{(0.8)}},{\rd{(0.6)}},{\rd{(0.4)}},{\rd{(0.2)}},{0.0\phantom{)}},{0.2\phantom{)}},{0.4\phantom{)}},{0.6\phantom{)}},{0.8\phantom{)}}},
  yticklabel style={font=\fs{11.5}, xshift=-6.5pt},
  xtick={0,...,9}, xticklabels={Div. Financials,Real Estate,Insurance,Materials,Energy,Others,Autos,HSBC,Tencent,Mainland banks},
  xticklabel style={font=\fs{11.5}, yshift=-10pt, xshift=3pt, rotate=45, anchor=east},
]
\draw[axgray, line width=0.8pt] (axis cs:-0.5,0) -- (axis cs:9.5,0);
\pgfplotsinvokeforeach{-0.5,0.5,...,9.5}{\draw[axgray] (axis cs:#1,0) -- ++(0pt,-3pt);}
\addplot[ybar, bar shift=0pt, bar width=18pt, fill=navy, draw=none, point meta=explicit symbolic, nodes near coords,
  every node near coord/.append style={font=\fs{11.5}, anchor=south, yshift=5pt}] coordinates {
(0,0.55)[0.6] (1,0.29)[0.3] (2,0.21)[0.2] (3,0.11)[0.1] (4,0.04)[0.0] (5,0.0)[0.0]};
\addplot[ybar, bar shift=0pt, bar width=18pt, fill=navy, draw=none, point meta=explicit symbolic, nodes near coords,
  every node near coord/.append style={font=\fs{11.5}, text=negred, anchor=north, yshift=-8pt}] coordinates {
(6,-0.17)[(0.2)] (7,-0.45)[(0.5)] (8,-0.70)[(0.7)] (9,-0.90)[(0.9)]};
\node[font=\bfseries\fs{14.9}] at (axis description cs:0.457,1.049) {Southbound holdings change by sector - 1 week};
\node[font=\fs{11}] at (axis description cs:-0.009,1.094) {(HKD bn)};
\end{axis}
\end{tikzpicture}
\end{document}
